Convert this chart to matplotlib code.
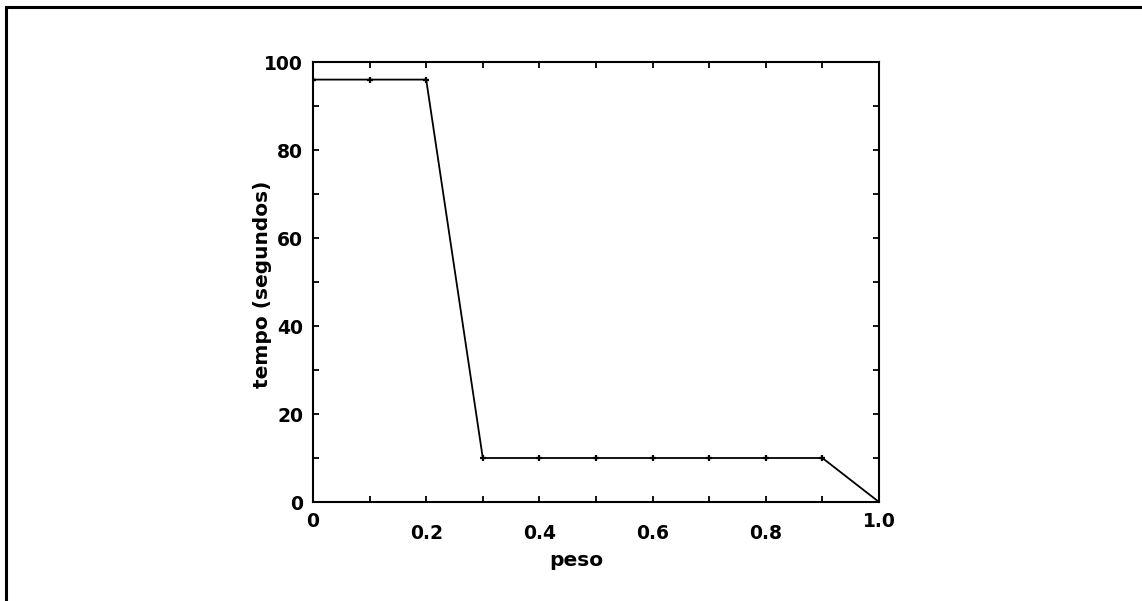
import matplotlib
matplotlib.use("Agg")
import matplotlib.pyplot as plt
from matplotlib.transforms import ScaledTranslation
from matplotlib.patches import Rectangle

peso = [0.0, 0.1, 0.2, 0.3, 0.4, 0.5, 0.6, 0.7, 0.8, 0.9, 1.0]
tempo = [96, 96, 96, 10, 10, 10, 10, 10, 10, 10, 0]
xtick_vals = [0.0, 0.2, 0.4, 0.6, 0.8, 1.0]
xtick_labels = ["0", "0.2", "0.4", "0.6", "0.8", "1.0"]
ytick_vals = [0, 20, 40, 60, 80, 100]
ytick_labels = ["0", "20", "40", "60", "80", "100"]

plt.rcParams['font.family'] = ['DejaVu Sans']
dpi = 100
fig = plt.figure(figsize=(11.42, 6.01), dpi=dpi)

# outer border (top and left visible)
fig.patches.append(Rectangle((6/1142, -0.1), 1.2, 1 - 7/601 + 0.1,
                             transform=fig.transFigure, fill=False,
                             edgecolor='black', linewidth=2.2))

ax = fig.add_axes([313/1142, 1 - 502/601, (879 - 313)/1142, (502 - 62)/601])
ax.plot(peso, tempo, color='black', linewidth=1.3, marker='+',
        markersize=5, markeredgewidth=1.6)
ax.set_xlim(0, 1.0)
ax.set_ylim(0, 100)

fs = 13.5
ax.set_xticks(xtick_vals)
ax.set_xticklabels(xtick_labels, fontsize=fs, fontweight='bold')
ax.set_xticks([0.1, 0.3, 0.5, 0.7, 0.9], minor=True)
ax.set_yticks(ytick_vals)
ax.set_yticklabels(ytick_labels, fontsize=fs, fontweight='bold')
ax.set_yticks([10, 30, 50, 70, 90], minor=True)

ax.tick_params(which='both', direction='in', top=True, right=True,
               length=4, width=1.3)
ax.tick_params(axis='x', which='major', pad=16)
ax.tick_params(axis='y', which='major', pad=7)

labels = ax.get_xticklabels()
for i in (0, len(labels) - 1):
    lab = labels[i]
    lab.set_transform(lab.get_transform() + ScaledTranslation(0, 12 / dpi, fig.dpi_scale_trans))

for s in ax.spines.values():
    s.set_linewidth(1.5)

ax.set_xlabel("peso", fontsize=14.5, fontweight='bold')
ax.set_ylabel("tempo (segundos)", fontsize=14.5, fontweight='bold')
ax.xaxis.set_label_coords(0.465, -0.112)
ax.yaxis.set_label_coords(-0.072, 0.495)

fig.savefig("out.png", dpi=dpi)
